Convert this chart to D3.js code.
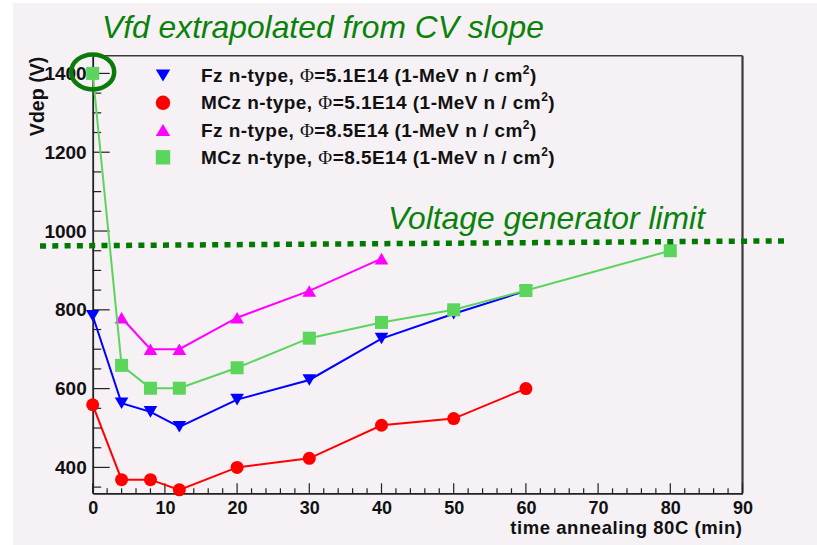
<!DOCTYPE html>
<html><head><meta charset="utf-8">
<script src="https://cdn.jsdelivr.net/npm/d3@7"></script>
<style>body{margin:0;background:#fff}</style>
</head><body><svg id="c" width="817" height="545"></svg>
<script>
// ---- data ----
const tFz51  = [0, 4, 8, 12, 20, 30, 40, 50, 60];
const vFz51  = [785, 563, 541, 503, 572, 622, 727, 790, 848];
const tMCz51 = [0, 4, 8, 12, 20, 30, 40, 50, 60];
const vMCz51 = [559, 369, 369, 343, 400, 423, 507, 524, 600];
const tFz85  = [4, 8, 12, 20, 30, 40];
const vFz85  = [780, 700, 700, 780, 848, 930];
const tMCz85 = [0, 4, 8, 12, 20, 30, 40, 50, 60, 80];
const vMCz85 = [1400, 659, 601, 601, 653, 728, 768, 800, 849, 950];
const seriesNames = ["Fz n-type, ", "MCz n-type, ", "Fz n-type, ", "MCz n-type, "];
const seriesFluence = ["=5.1E14 (1-MeV n / cm", "=5.1E14 (1-MeV n / cm", "=8.5E14 (1-MeV n / cm", "=8.5E14 (1-MeV n / cm"];
const xTickValues = [0, 10, 20, 30, 40, 50, 60, 70, 80, 90];
const yTickValues = [400, 600, 800, 1000, 1200, 1400];
const limitLine = [[-7.3, 962], [96.5, 975]];
const titleText = "Vfd extrapolated from CV slope";
const limitText = "Voltage generator limit";
const xTitle = "time annealing 80C (min)";
const yTitle = "Vdep (V)";

// ---- layout ----
const svg = d3.select("#c");
const L = 92.7, R = 742.5, T = 55.7, B = 493.3;
const x = d3.scaleLinear().domain([0, 90]).range([L, R]);
const y = d3.scaleLinear().domain([334.3, 1445]).range([B, T]);
const FONT = "'Liberation Sans', Arial, Helvetica, sans-serif";
const bg = "#f5f1f5";
const green = "#0a820a";

svg.append("rect").attr("x", 0).attr("y", 0).attr("width", 817).attr("height", 545).attr("fill", "#fff");
svg.append("rect").attr("x", 13).attr("y", 3).attr("width", 804).attr("height", 542).attr("fill", bg);

// frame
svg.append("line").attr("x1", L).attr("x2", R).attr("y1", T).attr("y2", T).attr("stroke", "#3a3a3a").attr("stroke-width", 1.6);
svg.append("line").attr("x1", R).attr("x2", R).attr("y1", T).attr("y2", B).attr("stroke", "#3a3a3a").attr("stroke-width", 2.2);

// x axis
const gx = svg.append("g").attr("transform", `translate(0,${B})`);
const xAxis = d3.axisBottom(x).tickValues(xTickValues).tickSize(0).tickPadding(8).tickFormat(d3.format("d"));
gx.call(xAxis);
gx.select(".domain").attr("stroke", "#222").attr("stroke-width", 1.8);
gx.selectAll("text").attr("font-family", FONT).attr("font-weight", "bold").attr("font-size", 18).attr("fill", "#111");
const xMinor = d3.range(0, 90.01, 2);
gx.selectAll("line.mt").data(xMinor).join("line").attr("class", "mt")
  .attr("x1", d => x(d)).attr("x2", d => x(d)).attr("y1", 0)
  .attr("y2", d => (d % 10 === 0 ? -10 : -5)).attr("stroke", "#222").attr("stroke-width", 1.2);

// y axis
const gy = svg.append("g").attr("transform", `translate(${L},0)`);
const yAxis = d3.axisLeft(y).tickValues(yTickValues).tickSize(0).tickPadding(6).tickFormat(d3.format("d"));
gy.call(yAxis);
gy.select(".domain").attr("stroke", "#222").attr("stroke-width", 1.8);
gy.selectAll("text").attr("font-family", FONT).attr("font-weight", "bold").attr("font-size", 19).attr("fill", "#111");
const yMinor = d3.range(350, 1445, 50);
gy.selectAll("line.mt").data(yMinor).join("line").attr("class", "mt")
  .attr("y1", d => y(d)).attr("y2", d => y(d)).attr("x1", 0)
  .attr("x2", d => (d % 200 === 0 ? 17 : 8.5)).attr("stroke", "#222").attr("stroke-width", 1.2);

// axis titles
svg.append("text").attr("x", R).attr("y", 534).attr("text-anchor", "end")
  .attr("font-family", FONT).attr("font-weight", "bold").attr("font-size", 18.5).attr("letter-spacing", 0.55)
  .attr("fill", "#111").text(xTitle);
svg.append("text").attr("transform", `translate(44,${T + 1}) rotate(-90)`).attr("text-anchor", "end")
  .attr("font-family", FONT).attr("font-weight", "bold").attr("font-size", 19.6).attr("fill", "#111").text(yTitle);

// markers
const mk = {
  down: (s) => `M${-s},${-s * 0.85}L${s},${-s * 0.85}L0,${s * 0.85}Z`,
  up: (s) => `M${-s},${s * 0.85}L${s},${s * 0.85}L0,${-s * 0.85}Z`,
  circle: (s) => d3.symbol(d3.symbolCircle, Math.PI * s * s)(),
  square: (s) => `M${-s},${-s}H${s}V${s}H${-s}Z`
};
const series = [
  { t: tFz51, v: vFz51, color: "#0000ff", shape: "down", s: 6.8 },
  { t: tMCz51, v: vMCz51, color: "#ff0000", shape: "circle", s: 6.5 },
  { t: tFz85, v: vFz85, color: "#ff00ff", shape: "up", s: 6.8 },
  { t: tMCz85, v: vMCz85, color: "#5bd55b", shape: "square", s: 6.5 }
];
const line = d3.line().x(d => x(d[0])).y(d => y(d[1]));
series.forEach(sr => {
  const pts = sr.t.map((t, i) => [t, sr.v[i]]);
  svg.append("path").attr("d", line(pts)).attr("fill", "none").attr("stroke", sr.color).attr("stroke-width", 2);
  svg.append("g").selectAll("path").data(pts).join("path")
    .attr("transform", d => `translate(${x(d[0])},${y(d[1])})`)
    .attr("d", mk[sr.shape](sr.s)).attr("fill", sr.color);
});

// legend
const legY = [75.5, 102.8, 130, 157.3];
series.forEach((sr, i) => {
  svg.append("path").attr("transform", `translate(163,${legY[i]})`).attr("d", mk[sr.shape](7.2)).attr("fill", sr.color);
  const tx = svg.append("text").attr("x", 201).attr("y", legY[i] + 6.5)
    .attr("font-family", FONT).attr("font-weight", "bold").attr("font-size", 19).attr("letter-spacing", 0.45)
    .attr("fill", "#111");
  tx.append("tspan").text(seriesNames[i]);
  tx.append("tspan").attr("font-family", "'Liberation Serif','DejaVu Serif',serif").attr("font-weight", "normal").text("\u03A6");
  tx.append("tspan").text(seriesFluence[i]);
  tx.append("tspan").attr("font-size", 12).attr("dy", -8).text("2");
  tx.append("tspan").attr("dy", 8).text(")");
});

// annotations
svg.append("text").attr("x", 102).attr("y", 38.3).attr("font-family", FONT).attr("font-style", "italic")
  .attr("font-size", 31.8).attr("fill", green).text(titleText);
svg.append("text").attr("x", 388).attr("y", 229.3).attr("font-family", FONT).attr("font-style", "italic")
  .attr("font-size", 31.8).attr("fill", green).text(limitText);
svg.append("path").attr("d", d3.line().x(d => x(d[0])).y(d => y(d[1]))(limitLine))
  .attr("fill", "none").attr("stroke", "#007a00").attr("stroke-width", 5.5).attr("stroke-dasharray", "6 6.3");
svg.append("ellipse").attr("cx", x(tMCz85[0])).attr("cy", y(vMCz85[0]) - 1.5).attr("rx", 21.5).attr("ry", 17.5)
  .attr("fill", "none").attr("stroke", "#0b7a0b").attr("stroke-width", 4.5);
</script></body></html>
